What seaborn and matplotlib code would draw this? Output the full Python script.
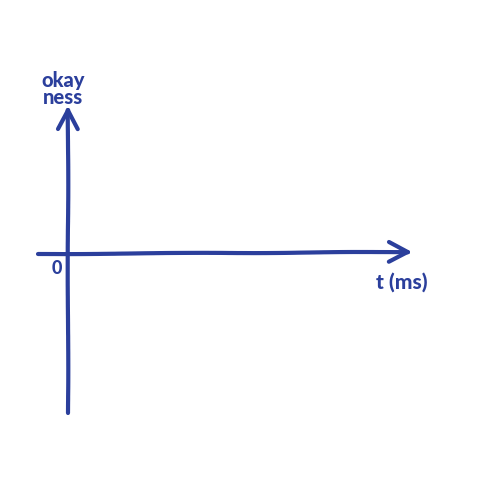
import pandas as pd
import matplotlib.pyplot as plt
import seaborn as sns

# axis strokes, in pixel units of the 480x480 canvas (y grows downward)
x_axis_x = [38, 408]
x_axis_y = [254, 252]
y_axis_x = [68, 68]
y_axis_y = [413, 110]

y_label = "okay\nness"
x_label = "t (ms)"
origin_label = "0"

ink = "#2b3f9c"

sns.set_theme(style="white")
plt.rcParams['font.family'] = ['Lato', 'DejaVu Sans']

fig = plt.figure(figsize=(4.8, 4.8), dpi=100)
ax = fig.add_axes([0, 0, 1, 1])

df_x = pd.DataFrame({"x": x_axis_x, "y": x_axis_y})
df_y = pd.DataFrame({"x": y_axis_x, "y": y_axis_y})
sns.lineplot(data=df_x, x="x", y="y", ax=ax, color=ink, lw=3, sort=False,
             estimator=None)
sns.lineplot(data=df_y, x="x", y="y", ax=ax, color=ink, lw=3, sort=False,
             estimator=None)

# open arrow heads at the end of each axis
head = 19
spread = 10
tx, ty = x_axis_x[-1], x_axis_y[-1]
ax.plot([tx - head, tx, tx - head], [ty - spread, ty, ty + spread],
        color=ink, lw=3, solid_joinstyle='round')
tx, ty = y_axis_x[-1], y_axis_y[-1]
ax.plot([tx - spread, tx, tx + spread], [ty + head, ty, ty + head],
        color=ink, lw=3, solid_joinstyle='round')

for line in ax.lines:
    line.set_sketch_params(scale=0.3, length=250, randomness=4)
    line.set_solid_capstyle('round')

ax.text(63, 89, y_label, color=ink, fontsize=14.5, fontweight='black',
        ha='center', va='center', linespacing=0.9)
ax.text(57, 269, origin_label, color=ink, fontsize=13, fontweight='black',
        ha='center', va='center')
ax.text(402, 282, x_label, color=ink, fontsize=15, fontweight='black',
        ha='center', va='center')

ax.set_xlim(0, 480)
ax.set_ylim(480, 0)
ax.set_axis_off()

fig.savefig("out.png", dpi=100)
